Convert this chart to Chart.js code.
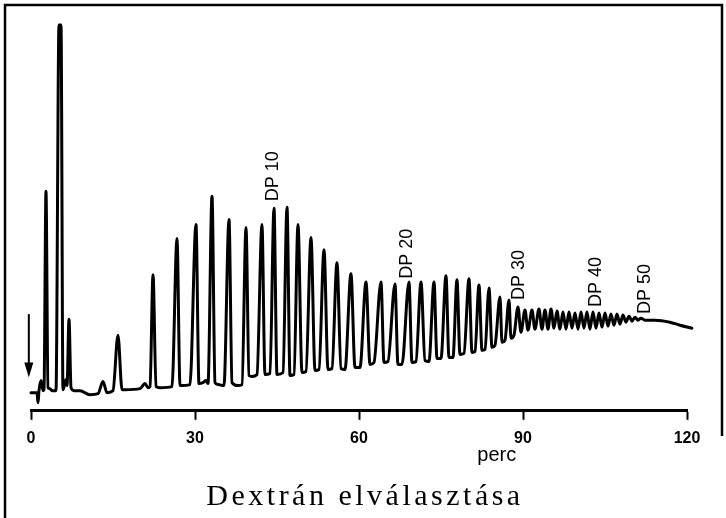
<!DOCTYPE html>
<html><head><meta charset="utf-8">
<script src="https://cdn.jsdelivr.net/npm/chart.js@4/dist/chart.umd.min.js"></script>
<style>html,body{margin:0;padding:0;background:#fff;} canvas{display:block;}</style>
</head><body>
<canvas id="c" width="726" height="518"></canvas>
<script>
// Retention time (min) and detector response (arbitrary units)
const timeMin = [
  0, 0.91, 1.10, 1.28, 1.46, 1.83, 2.20, 2.38, 2.74, 3.11, 3.48, 3.84, 4.57, 5.12, 5.49, 5.85,
  6.22, 6.40, 6.59, 6.95, 7.32, 7.87, 8.96, 10.79, 12.26, 13.17, 13.90, 15.00, 15.91, 16.65, 17.19,
  19.94, 20.85, 21.40, 21.77, 22.32, 22.87, 23.60, 25.79, 26.71, 27.26, 29.08, 30.18, 30.73, 31.46,
  32.01, 32.38, 33.11, 33.66, 34.21, 35.30, 36.22, 36.77, 37.86, 38.60, 39.33, 39.88, 40.43, 41.34,
  42.25, 42.80, 43.72, 44.45, 45.00, 46.10, 46.83, 47.38, 48.11, 48.84, 49.57, 50.30, 51.22, 51.95,
  52.68, 53.60, 54.33, 55.06, 55.97, 56.71, 57.44, 58.53, 59.27, 60.18, 61.28, 62.01, 62.74, 64.02,
  64.57, 65.30, 66.58, 67.13, 67.86, 69.14, 69.69, 70.42, 71.34, 72.07, 72.80, 73.72, 74.27, 75.00,
  75.91, 76.46, 77.19, 77.92, 78.47, 79.20, 80.12, 80.67, 81.22, 81.95, 82.50, 83.05, 83.78, 84.33,
  84.87, 85.79, 86.16, 86.70, 87.44, 87.80, 88.35, 89.08, 89.63, 90.36, 90.91, 91.64, 92.19, 92.92,
  93.47, 94.02, 94.57, 95.12, 95.67, 96.22, 96.76, 97.31, 97.86, 98.41, 98.96, 99.51, 100.06, 100.61,
  101.15, 101.70, 102.25, 102.80, 103.35, 103.90, 104.45, 105.00, 105.54, 106.09, 106.64, 107.19,
  107.74, 108.29, 108.84, 109.39, 109.94, 110.48, 111.03, 111.58, 112.31, 114.14, 116.88, 118.72, 120.91
];
const signal = [
  18, 18, 18, 8, 20, 30, 20, 21, 218, 23, 22, 20, 20, 383, 383, 21,
  28, 31, 25, 91, 23, 20, 20, 16, 17, 29, 18, 20, 75, 21, 21,
  22, 27, 23, 24, 135, 24, 23, 24, 171, 25, 26, 185, 27, 28,
  30, 27, 213, 28, 26, 25, 190, 28, 25, 26, 182, 35, 34, 36,
  185, 36, 37, 201, 36, 38, 202, 35, 36, 185, 38, 39, 172, 40,
  41, 160, 41, 42, 147, 42, 41, 136, 43, 43, 128, 46, 48, 128,
  48, 49, 126, 46, 46, 128, 48, 49, 128, 50, 49, 128, 52, 52,
  134, 53, 53, 130, 56, 57, 131, 58, 59, 125, 60, 61, 122, 63,
  65, 113, 68, 70, 110, 72, 75, 103, 78, 100, 80, 100, 81, 101,
  81, 100, 81, 101, 82, 99, 81, 98, 81, 98, 82, 97, 81, 98,
  82, 98, 81, 98, 82, 97, 83, 97, 84, 96, 85, 96,
  86, 95, 88, 94, 89, 93, 90, 92, 90, 90, 88, 85, 82
];
const tickValues = [0, 30, 60, 90, 120];
const dpLabels = ['DP 10', 'DP 20', 'DP 30', 'DP 40', 'DP 50'];
const dpTime = [44.3, 68.8, 89.3, 103.3, 112.3];
const dpLevel = [208, 131, 110, 103, 96];
const injectionTime = -0.4;
const injectionTop = 96;
const injectionTip = 33;
const xTitle = 'perc';
const xTitleTime = 85.2;
const chartTitle = 'Dextrán elválasztása';

const points = timeMin.map((t, i) => ({x: t, y: signal[i]}));

const decor = {
  id: 'decor',
  beforeDraw(chart) {
    const ctx = chart.ctx;
    ctx.save();
    ctx.fillStyle = '#fff';
    ctx.fillRect(0, 0, chart.width, chart.height);
    ctx.strokeStyle = '#000';
    ctx.lineWidth = 2.5;
    ctx.beginPath();
    ctx.moveTo(5, 518);
    ctx.lineTo(5, 5);
    ctx.lineTo(722, 5);
    ctx.lineTo(722, 436);
    ctx.stroke();
    ctx.restore();
  },
  afterDraw(chart) {
    const ctx = chart.ctx;
    const xs = chart.scales.x, ys = chart.scales.y;
    ctx.save();
    // injection arrow
    const ax = xs.getPixelForValue(injectionTime);
    const aTop = ys.getPixelForValue(injectionTop);
    const aTip = ys.getPixelForValue(injectionTip);
    ctx.strokeStyle = '#000';
    ctx.fillStyle = '#000';
    ctx.lineWidth = 2;
    ctx.beginPath();
    ctx.moveTo(ax, aTop);
    ctx.lineTo(ax, aTip - 10);
    ctx.stroke();
    ctx.beginPath();
    ctx.moveTo(ax - 4.5, aTip - 15);
    ctx.lineTo(ax + 4.5, aTip - 15);
    ctx.lineTo(ax, aTip);
    ctx.closePath();
    ctx.fill();
    // DP labels
    ctx.font = '18px "Liberation Sans", Arial, sans-serif';
    ctx.textAlign = 'left';
    ctx.textBaseline = 'middle';
    dpLabels.forEach((lab, i) => {
      const px = xs.getPixelForValue(dpTime[i]);
      const py = ys.getPixelForValue(dpLevel[i]);
      ctx.save();
      ctx.translate(px, py);
      ctx.rotate(-Math.PI / 2);
      ctx.fillText(lab, 0, 0);
      ctx.restore();
    });
    // axis title
    ctx.font = '20px "Liberation Sans", Arial, sans-serif';
    ctx.textAlign = 'center';
    ctx.textBaseline = 'middle';
    ctx.fillText(xTitle, xs.getPixelForValue(xTitleTime), 455);
    // chart title
    ctx.font = '30px "Liberation Serif", "Times New Roman", serif';
    ctx.letterSpacing = '3.5px';
    ctx.fillText(chartTitle, 365, 497);
    ctx.restore();
  }
};

new Chart(document.getElementById('c'), {
  type: 'line',
  data: {
    datasets: [{
      data: points,
      borderColor: '#000',
      borderWidth: 3,
      pointRadius: 0,
      cubicInterpolationMode: 'monotone',
      borderJoinStyle: 'round',
      borderCapStyle: 'round',
      clip: false
    }]
  },
  options: {
    responsive: false,
    animation: false,
    devicePixelRatio: 1,
    layout: {padding: {left: 31, right: 39, top: 18, bottom: 61}},
    plugins: {legend: {display: false}, tooltip: {enabled: false}, title: {display: false}},
    scales: {
      x: {
        type: 'linear',
        min: 0, max: 120,
        afterBuildTicks(scale) { scale.ticks = tickValues.map(v => ({value: v})); },
        grid: {drawOnChartArea: false, drawTicks: true, tickLength: 9, tickWidth: 2, tickColor: '#000'},
        border: {display: true, color: '#000', width: 3},
        ticks: {
          color: '#000', padding: 9,
          font: {family: '"Liberation Sans", Arial, sans-serif', size: 16, weight: 'bold'}
        }
      },
      y: {display: false, min: 0, max: 390}
    }
  },
  plugins: [decor]
});
</script>
</body></html>
